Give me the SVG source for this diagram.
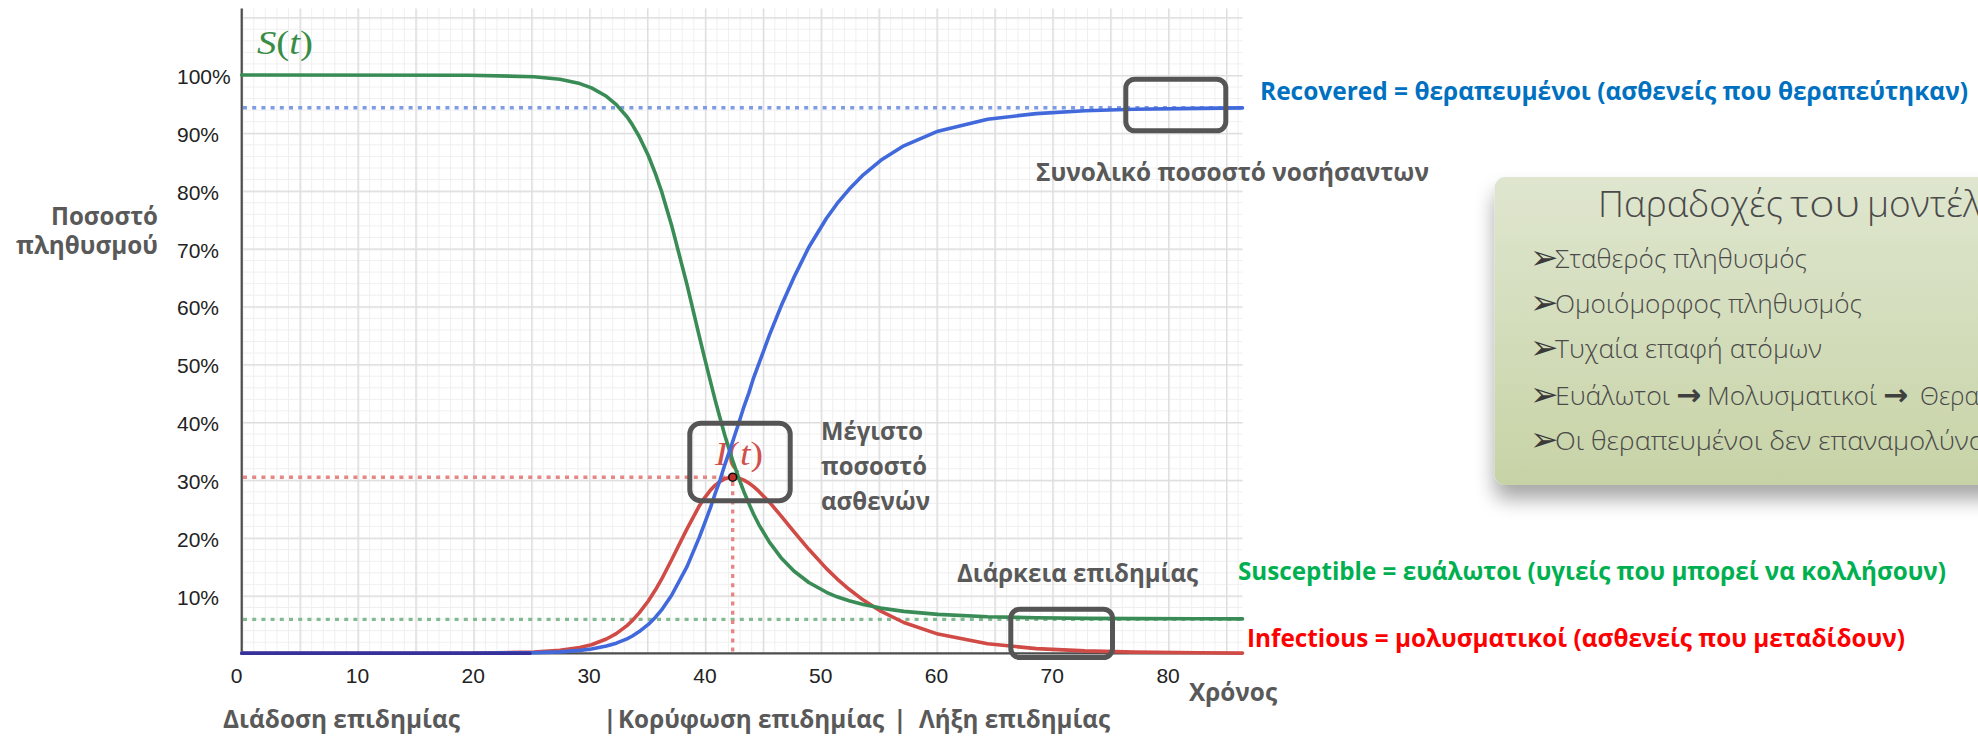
<svg xmlns="http://www.w3.org/2000/svg" width="1978" height="737" viewBox="0 0 1978 737">
<defs>
<style>
.tick{font-family:"Liberation Sans",Arial,sans-serif;font-size:21px;fill:#222}
.lbl{font-family:"Open Sans","Noto Sans","DejaVu Sans",sans-serif;font-weight:700;font-size:25px;fill:#595959}
.bx{font-family:"Open Sans","Noto Sans","DejaVu Sans",sans-serif;font-weight:300;fill:#4a4a4a}
.bul{font-family:"DejaVu Sans",sans-serif;font-size:34px;fill:#3a3a3a}
.arr{font-family:"DejaVu Sans",sans-serif;font-size:30px;font-weight:700;fill:#404040}
.math{font-family:"Liberation Serif","DejaVu Serif",serif;font-size:33px}
.curve{fill:none;stroke-width:3.6;stroke-linejoin:round;stroke-linecap:round}
.dots{fill:none;stroke-width:3.4;stroke-dasharray:4 5.2}
.hl{fill:none;stroke:#555;stroke-width:5}
</style>
<pattern id="minor" x="241.7" y="653.3" width="11.58" height="11.566" patternUnits="userSpaceOnUse">
<path d="M0 0V11.566M0 0H11.58" stroke="#efefef" stroke-width="2" fill="none"/>
</pattern>
<pattern id="major" x="241.7" y="653.3" width="57.9" height="57.83" patternUnits="userSpaceOnUse">
<path d="M0 0V57.83M0 0H57.9" stroke="#dedede" stroke-width="3" fill="none"/>
</pattern>
<linearGradient id="boxg" x1="0" y1="0" x2="0" y2="1">
<stop offset="0" stop-color="#dfe6cf"/>
<stop offset="1" stop-color="#c7d3a6"/>
</linearGradient>
<filter id="shadow" x="-10%" y="-10%" width="130%" height="140%">
<feGaussianBlur in="SourceAlpha" stdDeviation="10"/>
<feOffset dx="0" dy="14" result="b"/>
<feComponentTransfer><feFuncA type="linear" slope="0.35"/></feComponentTransfer>
<feMerge><feMergeNode/><feMergeNode in="SourceGraphic"/></feMerge>
</filter>
</defs>

<g id="grid">
<rect x="241.7" y="8.5" width="1000.8" height="644.8" fill="#fff"/>
<rect x="241.7" y="8.5" width="1000.8" height="644.8" fill="url(#minor)"/>
<rect x="241.7" y="8.5" width="1000.8" height="644.8" fill="url(#major)"/>
</g>

<g id="axes" stroke="#4d4d4d" stroke-width="2.2" fill="none">
<path d="M241.7 8.5V653.3H1242.5"/>
</g>

<g id="tick-labels">
<text class="tick" x="177" y="84">100%</text>
<text class="tick" x="177" y="141.8">90%</text>
<text class="tick" x="177" y="199.7">80%</text>
<text class="tick" x="177" y="257.5">70%</text>
<text class="tick" x="177" y="315.3">60%</text>
<text class="tick" x="177" y="373.2">50%</text>
<text class="tick" x="177" y="431">40%</text>
<text class="tick" x="177" y="488.8">30%</text>
<text class="tick" x="177" y="546.6">20%</text>
<text class="tick" x="177" y="604.5">10%</text>
<g text-anchor="middle">
<text class="tick" x="236.5" y="683.3">0</text>
<text class="tick" x="357.5" y="683.3">10</text>
<text class="tick" x="473.3" y="683.3">20</text>
<text class="tick" x="589.1" y="683.3">30</text>
<text class="tick" x="704.9" y="683.3">40</text>
<text class="tick" x="820.7" y="683.3">50</text>
<text class="tick" x="936.5" y="683.3">60</text>
<text class="tick" x="1052.3" y="683.3">70</text>
<text class="tick" x="1168.1" y="683.3">80</text>
</g>
</g>

<g id="reference-lines">
<path class="dots" stroke="#7f9be6" d="M243 107.7H1242"/>
<path class="dots" stroke="#84ba93" d="M243 619.4H1242"/>
<path class="dots" stroke="#e58884" d="M243 477.2H730"/>
<path class="dots" stroke="#e58884" d="M732.7 482V652"/>
</g>

<g id="curve-labels">
<text class="math" x="257" y="54" fill="#388c46" textLength="56" lengthAdjust="spacingAndGlyphs"><tspan font-style="italic">S</tspan>(<tspan font-style="italic">t</tspan>)</text>
<text class="math" x="715" y="465" fill="#d0504c" textLength="48" lengthAdjust="spacingAndGlyphs"><tspan font-style="italic">I</tspan>(<tspan font-style="italic">t</tspan>)</text>
</g>

<g id="curves">
<path id="curve-I" class="curve" stroke="#d04a46" d="M241.7 653.3L468.2 653.2L533.8 652.1L559.9 650.4L579.8 647.5L591.5 644.7L606.4 639L616.3 633.6L627 625.6L632.4 620.5L639.2 612.9L648.3 601L655.5 589.8L661.6 579.2L671.5 560L687 528.9L699.2 506.1L704.8 497.6L710.1 490.6L715.1 485.3L720.1 481.4L724.8 478.8L729.6 477.5L732.7 477.2L739.1 478.3L743.9 480.1L748.8 483L753.6 486.6L758.7 491.2L769.4 502.2L781 515.8L793.9 531.7L808.8 549.3L826.5 568.6L837 578.8L849.1 589.3L863.3 600.1L880.8 611.2L903.8 622.5L938 634.1L987.6 643.8L1036.3 648.6L1084.9 650.9L1133.6 652.1L1198.1 652.8L1242.5 653.1"/>
<path id="curve-S" class="curve" stroke="#3a8c56" d="M241.7 75L468.2 75.2L533.8 76.7L559.9 79.3L579.8 83.6L591.5 87.9L606.4 96.3L616.3 104.6L627 116.8L632.4 124.8L639.2 136.5L648.3 155.5L655.5 173.9L661.6 191.5L671.5 224.9L687 284.6L699.2 335.9L704.8 358.9L710.1 380.1L715.1 399.9L720.1 418.2L724.8 435.2L729.6 450.9L732.7 460.5L739.1 479.1L743.9 491.7L748.8 503.4L753.6 514.2L758.7 524.3L769.4 542.2L781 557.7L793.9 571L808.8 582.5L826.5 592.3L837 596.8L849.1 600.8L863.3 604.6L880.8 608.1L903.8 611.4L938 614.4L987.6 616.8L1036.3 617.8L1084.9 618.4L1133.6 618.6L1198.1 618.8L1242.5 618.9"/>
<path id="curve-R" class="curve" stroke="#4169dc" d="M241.7 653.3L468.2 653.2L533.8 652.7L559.9 651.9L579.8 650.4L591.5 649L606.4 646.1L616.3 643.2L627 638.8L632.4 636L639.2 631.6L648.3 624.4L655.5 617.2L661.6 609.9L671.5 595.5L687 566.6L699.2 537.6L704.8 522.8L710.1 508.7L715.1 493.8L720.1 479.8L724.8 464.8L729.6 450.9L732.7 441.5L739.1 422L743.9 406.8L748.8 393.1L753.6 377.8L758.7 364.2L769.4 335.2L781 306.3L793.9 277.4L808.8 247.3L826.5 218.3L837 203.7L849.1 189.3L863.3 174.8L880.8 160.3L903.8 145.8L938 131.2L987.6 119.2L1036.3 113.6L1084.9 110.7L1133.6 109.3L1198.1 108.4L1242.5 107.9"/>
<path class="curve" stroke="#35309a" d="M242 653.3H530"/>
<circle cx="732.7" cy="477.2" r="4" fill="#c0302c" stroke="#111" stroke-width="1.6"/>
</g>

<g id="highlights">
<rect class="hl" x="1125.8" y="79.2" width="100" height="51.6" rx="9"/>
<rect class="hl" x="689.8" y="423.2" width="100.4" height="77.6" rx="11"/>
<rect class="hl" x="1010.8" y="609.2" width="101.7" height="48.3" rx="9"/>
</g>

<g id="axis-titles">
<text class="lbl" x="158" y="225" text-anchor="end" textLength="107" lengthAdjust="spacingAndGlyphs">Ποσοστό</text>
<text class="lbl" x="158" y="254" text-anchor="end" textLength="142" lengthAdjust="spacingAndGlyphs">πληθυσμού</text>
<text class="lbl" x="1189" y="700.5" textLength="88" lengthAdjust="spacingAndGlyphs">Χρόνος</text>
</g>

<g id="annotations">
<text class="lbl" x="1260" y="100" style="fill:#0070c0" textLength="708" lengthAdjust="spacingAndGlyphs">Recovered = θεραπευμένοι (ασθενείς που θεραπεύτηκαν)</text>
<text class="lbl" x="1036" y="180.7" textLength="393" lengthAdjust="spacingAndGlyphs">Συνολικό ποσοστό νοσήσαντων</text>
<text class="lbl" x="821" y="440" textLength="102" lengthAdjust="spacingAndGlyphs">Μέγιστο</text>
<text class="lbl" x="821" y="475" textLength="106" lengthAdjust="spacingAndGlyphs">ποσοστό</text>
<text class="lbl" x="821" y="510" textLength="109" lengthAdjust="spacingAndGlyphs">ασθενών</text>
<text class="lbl" x="957" y="581.7" textLength="241" lengthAdjust="spacingAndGlyphs">Διάρκεια επιδημίας</text>
<text class="lbl" x="1238" y="579.5" style="fill:#00b050" textLength="708" lengthAdjust="spacingAndGlyphs">Susceptible = ευάλωτοι (υγιείς που μπορεί να κολλήσουν)</text>
<text class="lbl" x="1247" y="647.3" style="fill:#ff0000" textLength="658" lengthAdjust="spacingAndGlyphs">Infectious = μολυσματικοί (ασθενείς που μεταδίδουν)</text>
</g>

<g id="phases">
<text class="lbl" x="223" y="728.3" textLength="237" lengthAdjust="spacingAndGlyphs">Διάδοση επιδημίας</text>
<text class="lbl" x="603" y="728.3">|</text>
<text class="lbl" x="618" y="728.3" textLength="266" lengthAdjust="spacingAndGlyphs">Κορύφωση επιδημίας</text>
<text class="lbl" x="893" y="728.3">|</text>
<text class="lbl" x="919" y="728.3" textLength="191" lengthAdjust="spacingAndGlyphs">Λήξη επιδημίας</text>
</g>

<g id="assumptions-box">
<rect x="1494.5" y="177" width="520" height="308" rx="11" fill="url(#boxg)" filter="url(#shadow)"/>
<text class="bx" font-size="37" y="216.7"><tspan x="1598" textLength="185" lengthAdjust="spacingAndGlyphs">Παραδοχές</tspan><tspan x="1790" textLength="70" lengthAdjust="spacingAndGlyphs">του</tspan><tspan x="1867">μοντέλου</tspan></text>
<text class="bul" x="1530" y="269">➢</text>
<text class="bx" font-size="26" x="1555" y="268.3" textLength="252" lengthAdjust="spacingAndGlyphs">Σταθερός πληθυσμός</text>
<text class="bul" x="1530" y="314">➢</text>
<text class="bx" font-size="26" x="1555" y="313.3" textLength="307" lengthAdjust="spacingAndGlyphs">Ομοιόμορφος πληθυσμός</text>
<text class="bul" x="1530" y="359">➢</text>
<text class="bx" font-size="26" x="1555" y="358.3" textLength="267" lengthAdjust="spacingAndGlyphs">Τυχαία επαφή ατόμων</text>
<text class="bul" x="1530" y="405.7">➢</text>
<text class="bx" font-size="26" x="1555" y="405" textLength="115" lengthAdjust="spacingAndGlyphs">Ευάλωτοι</text>
<text class="arr" x="1676" y="405">→</text>
<text class="bx" font-size="26" x="1707" y="405" textLength="170" lengthAdjust="spacingAndGlyphs">Μολυσματικοί</text>
<text class="arr" x="1883" y="405">→</text>
<text class="bx" font-size="26" x="1920" y="405" textLength="161" lengthAdjust="spacingAndGlyphs">Θεραπευμένοι</text>
<text class="bul" x="1530" y="450.7">➢</text>
<text class="bx" font-size="26" x="1555" y="450" textLength="480" lengthAdjust="spacingAndGlyphs">Οι θεραπευμένοι δεν επαναμολύνονται</text>
</g>
</svg>
